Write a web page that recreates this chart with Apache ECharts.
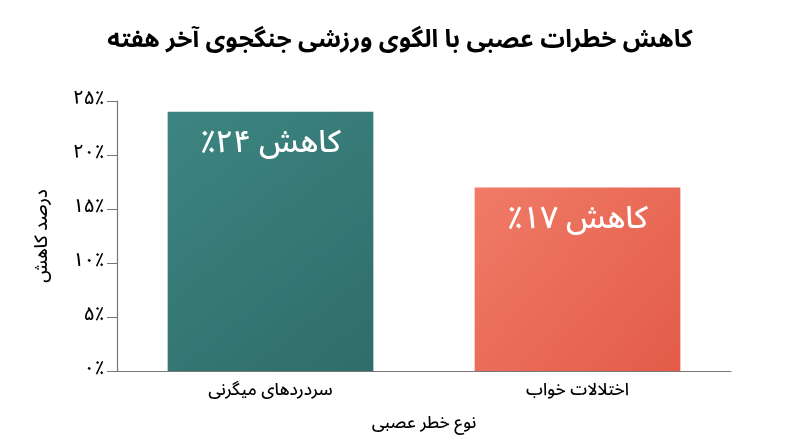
<!DOCTYPE html>
<html>
<head>
<meta charset="utf-8">
<script src="https://cdn.jsdelivr.net/npm/echarts@6/dist/echarts.min.js"></script>
<style>
  html, body { margin: 0; padding: 0; background: #fff; }
  #main { width: 800px; height: 447px; }
</style>
</head>
<body>
<div id="main"></div>
<script>
// داده‌ها
var categories = ['سردردهای میگرنی', 'اختلالات خواب'];
var reduction = [24, 17];
var barLabels = ['کاهش ۲۴٪', 'کاهش ۱۷٪'];
var yTickLabels = ['۰٪', '۵٪', '۱۰٪', '۱۵٪', '۲۰٪', '۲۵٪'];

var fontFam = "'Noto Sans Arabic', 'DejaVu Sans', sans-serif";

var barColors = [
    new echarts.graphic.LinearGradient(0, 0, 1, 1, [
        { offset: 0, color: '#3d8581' },
        { offset: 1, color: '#2e6d6a' }
    ]),
    new echarts.graphic.LinearGradient(0, 0, 1, 1, [
        { offset: 0, color: '#f07b67' },
        { offset: 1, color: '#e35c48' }
    ])
];

var myChart = echarts.init(document.getElementById('main'));
myChart.setOption({
    textStyle: { fontFamily: fontFam },
    title: {
        text: 'کاهش خطرات عصبی با الگوی ورزشی جنگجوی آخر هفته',
        left: 'center',
        top: 26,
        textStyle: { fontSize: 24.5, fontWeight: 'bold', color: '#000', fontFamily: fontFam }
    },
    grid: { left: 117, right: 69, top: 101, bottom: 76 },
    xAxis: {
        type: 'category',
        data: categories,
        name: 'نوع خطر عصبی',
        nameLocation: 'middle',
        nameGap: 46,
        nameTextStyle: { fontSize: 17, fontWeight: 500, color: '#000', fontFamily: fontFam },
        axisLine: { lineStyle: { color: '#777', width: 1.2 } },
        axisTick: { inside: true, length: 5, lineStyle: { color: '#777' } },
        axisLabel: { fontSize: 17, fontWeight: 500, color: '#000', margin: 13, fontFamily: fontFam }
    },
    yAxis: {
        type: 'value',
        min: 0,
        max: 25,
        interval: 5,
        name: 'درصد کاهش',
        nameLocation: 'middle',
        nameGap: 64,
        nameTextStyle: { fontSize: 18, fontWeight: 500, color: '#000', fontFamily: fontFam },
        splitLine: { show: false },
        axisLine: { show: true, lineStyle: { color: '#777', width: 1.2 } },
        axisTick: { show: true, length: 10, lineStyle: { color: '#777' } },
        axisLabel: {
            fontSize: 19,
            fontWeight: 500,
            color: '#000',
            margin: 13,
            fontFamily: fontFam,
            formatter: function (v) { return yTickLabels[Math.round(v / 5)]; }
        }
    },
    series: [{
        type: 'bar',
        barWidth: '67%',
        data: reduction.map(function (v, i) {
            return { value: v, itemStyle: { color: barColors[i] } };
        }),
        label: {
            show: true,
            position: 'insideTop',
            distance: 20,
            fontSize: 31,
            fontWeight: 500,
            color: '#fff',
            fontFamily: fontFam,
            formatter: function (p) { return barLabels[p.dataIndex] + '\u200F'; }
        }
    }]
});
</script>
</body>
</html>
